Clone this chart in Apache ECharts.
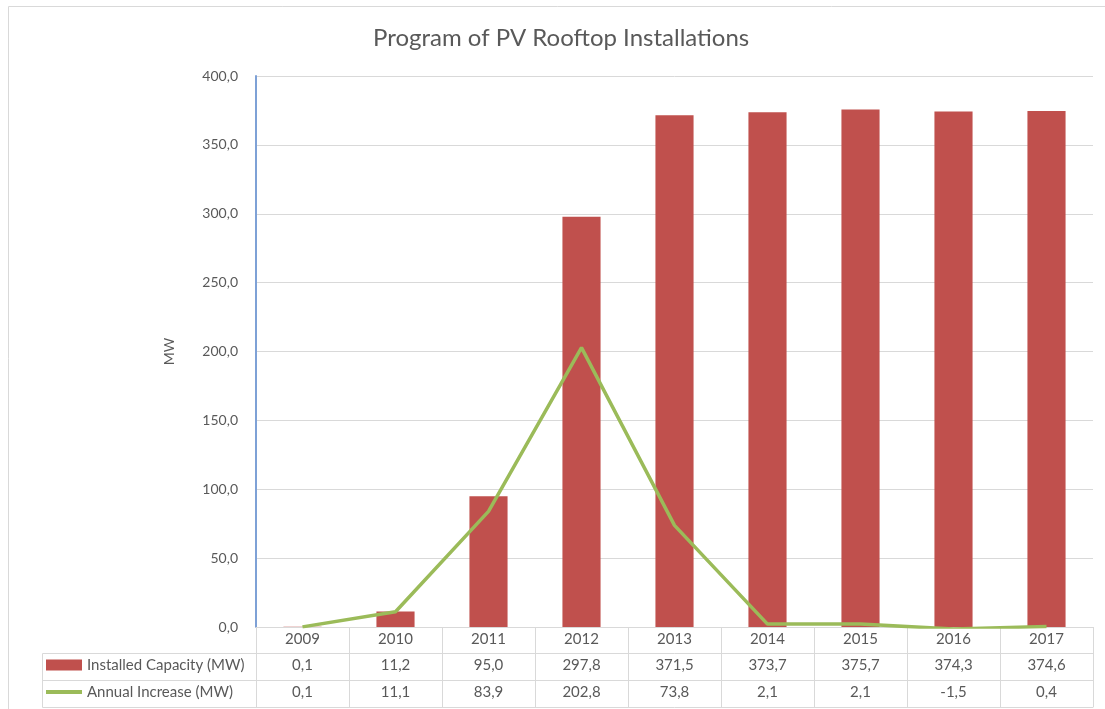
<!DOCTYPE html>
<html><head><meta charset="utf-8">
<script src="https://cdn.jsdelivr.net/npm/echarts@6/dist/echarts.min.js"></script>
<style>html,body{margin:0;padding:0;background:#fff}#c{width:1105px;height:709px}</style>
</head><body><div id="c"></div>
<script>
var years = ['2009','2010','2011','2012','2013','2014','2015','2016','2017'];
var installed = [0.1, 11.2, 95.0, 297.8, 371.5, 373.7, 375.7, 374.3, 374.6];
var annual = [0.1, 11.1, 83.9, 202.8, 73.8, 2.1, 2.1, -1.5, 0.4];
var seriesNames = ['Installed Capacity (MW)', 'Annual Increase (MW)'];
var titleText = 'Program of PV Rooftop Installations';

var FONT = 'Lato, "Open Sans", sans-serif';
var TXT = '#595959';
var GRIDC = '#d9d9d9';
function fmt(v){ return v.toFixed(1).replace('.', ','); }

var chart = echarts.init(document.getElementById('c'));
var baseX = {
  type: 'category', data: years, position: 'bottom', boundaryGap: true,
  axisLine: {show: true, lineStyle: {color: GRIDC, width: 1}},
  axisTick: {show: false},
  splitLine: {show: false},
  axisLabel: {color: TXT, fontFamily: FONT, fontSize: 15, margin: 5}
};
chart.setOption({
  animation: false,
  title: {text: titleText, left: 373, top: 26, padding: 0,
    textStyle: {color: TXT, fontFamily: FONT, fontSize: 24, fontWeight: 'normal'}},
  grid: {left: 256, right: 12, top: 76, bottom: 82, containLabel: false},
  legend: {
    orient: 'vertical', left: 46, top: 656, itemGap: 9, padding: 0,
    itemWidth: 36, itemHeight: 11,
    textStyle: {color: TXT, fontFamily: FONT, fontSize: 15, lineHeight: 18},
    data: [
      {name: seriesNames[0], icon: 'rect'},
      {name: seriesNames[1], icon: 'path://M0,0 L36,0 L36,4 L0,4 Z'}
    ]
  },
  xAxis: [
    Object.assign({}, baseX, {
      axisTick: {show: true, length: 80, inside: false, lineStyle: {color: GRIDC}}
    }),
    Object.assign({}, baseX, {offset: 26,
      axisLabel: Object.assign({}, baseX.axisLabel, {formatter: function(v, i){ return fmt(installed[i]); }})}),
    Object.assign({}, baseX, {offset: 53,
      axisLabel: Object.assign({}, baseX.axisLabel, {formatter: function(v, i){ return fmt(annual[i]); }})}),
    Object.assign({}, baseX, {offset: 80, axisLabel: {show: false}})
  ],
  yAxis: {
    type: 'value', min: 0, max: 400, interval: 50,
    name: 'MW', nameLocation: 'middle', nameGap: 80, nameRotate: 90,
    nameTextStyle: {color: TXT, fontFamily: FONT, fontSize: 14},
    axisLine: {show: true, lineStyle: {color: '#7ea1d6', width: 2}},
    axisTick: {show: false},
    splitLine: {lineStyle: {color: GRIDC}},
    axisLabel: {color: TXT, fontFamily: FONT, fontSize: 14, margin: 18, formatter: function(v){ return fmt(v); }}
  },
  series: [
    {name: seriesNames[0], type: 'bar', data: installed, barWidth: '41%',
     itemStyle: {color: '#C0504D'}},
    {name: seriesNames[1], type: 'line', data: annual, symbol: 'none', showSymbol: false,
     lineStyle: {color: '#9BBB59', width: 3.5}, itemStyle: {color: '#9BBB59'}, z: 3}
  ],
  graphic: [
    {type: 'rect', shape: {x: 8.5, y: 6.5, width: 1200, height: 800}, style: {fill: null, stroke: '#d9d9d9', lineWidth: 1}, silent: true},
    {type: 'line', shape: {x1: 42.5, y1: 653.5, x2: 256, y2: 653.5}, style: {stroke: GRIDC}},
    {type: 'line', shape: {x1: 42.5, y1: 680.5, x2: 256, y2: 680.5}, style: {stroke: GRIDC}},
    {type: 'line', shape: {x1: 42.5, y1: 707.5, x2: 256, y2: 707.5}, style: {stroke: GRIDC}},
    {type: 'line', shape: {x1: 42.5, y1: 653.5, x2: 42.5, y2: 707.5}, style: {stroke: GRIDC}}
  ]
});
</script></body></html>
